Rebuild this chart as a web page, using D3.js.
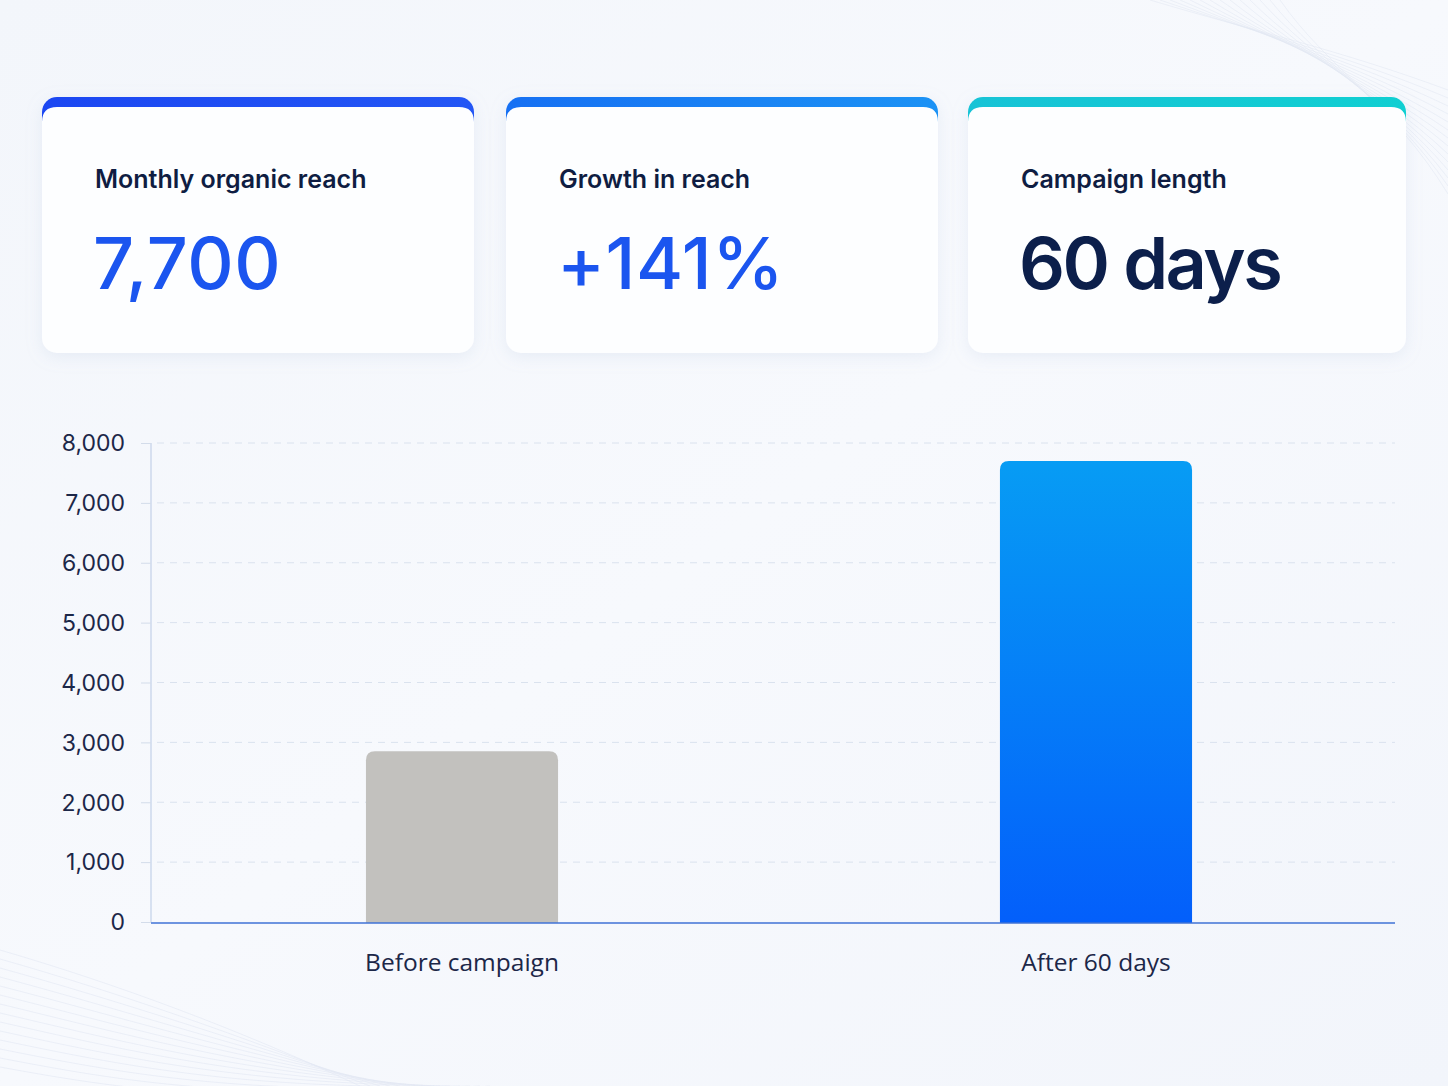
<!DOCTYPE html>
<html>
<head>
<meta charset="utf-8">
<title>Organic reach campaign</title>
<script src="https://cdn.jsdelivr.net/npm/d3@7/dist/d3.min.js"></script>
<style>
  html, body { margin: 0; padding: 0; background: #f4f7fc; }
  svg { display: block; }
  text { font-family: Inter, "Noto Sans", sans-serif; }
  .card-title { font-size: 25px; font-weight: 600; fill: #0f1d42; }
  .card-value { font-size: 72px; font-weight: 500; }
  .tick text { font-size: 23px; fill: #1c2748; }
  .cat-label { font-family: "Open Sans", "Noto Sans", sans-serif; font-size: 24.5px; fill: #1c2748; }
</style>
</head>
<body>
<svg width="1448" height="1086"></svg>
<script>
// ---- data ----
var cardTitles = ["Monthly organic reach", "Growth in reach", "Campaign length"];
var cardValues = ["7,700", "+141%", "60 days"];
var categories = ["Before campaign", "After 60 days"];
var reach = [2850, 7700];
var yTicks = [0, 1000, 2000, 3000, 4000, 5000, 6000, 7000, 8000];

var W = 1448, H = 1086;
var svg = d3.select("svg");
var defs = svg.append("defs");

// background
var bg = defs.append("linearGradient").attr("id", "bg")
  .attr("x1", 0).attr("y1", 0).attr("x2", 1).attr("y2", 1);
bg.append("stop").attr("offset", "0%").attr("stop-color", "#f3f6fb");
bg.append("stop").attr("offset", "50%").attr("stop-color", "#f7f9fd");
bg.append("stop").attr("offset", "100%").attr("stop-color", "#f2f5fb");
svg.append("rect").attr("width", W).attr("height", H).attr("fill", "url(#bg)");

// faint wave lines in corners
var waves = svg.append("g").attr("fill", "none").attr("stroke", "#e2e8f3").attr("stroke-width", 1);
d3.range(14).forEach(function(i) {
  waves.append("path")
    .attr("d", "M" + (1150 + i * 10) + ",0 C" + (1250 + i * 6) + "," + (30 + i * 3) + " " +
      (1340 + i * 4) + "," + (50 + i * 4) + " 1448," + (90 + i * 8))
    .attr("opacity", 0.55);
  waves.append("path")
    .attr("d", "M0," + (950 + i * 9) + " C120," + (985 + i * 8) + " 240," + (1030 + i * 6) + " " +
      (360 + i * 10) + ",1086")
    .attr("opacity", 0.6);
});

// ---- cards ----
var cardX = [42, 506, 968];
var cardW = [432, 432, 438];
var cardY = 97, cardH = 256, radius = 15;
var accentColors = [["#1b47f2", "#2356f5"], ["#1670f3", "#1b92f5"], ["#17c3d6", "#10cfd2"]];
var valueColors = ["#1b55ef", "#1b55ef", "#0c1f4b"];

var shadow = defs.append("filter").attr("id", "shadow")
  .attr("x", "-10%").attr("y", "-10%").attr("width", "120%").attr("height", "130%");
shadow.append("feDropShadow").attr("dx", 0).attr("dy", 4).attr("stdDeviation", 8)
  .attr("flood-color", "#9fb2d6").attr("flood-opacity", 0.18);

cardTitles.forEach(function(t, i) {
  var g = svg.append("g").attr("transform", "translate(" + cardX[i] + "," + cardY + ")");
  var grad = defs.append("linearGradient").attr("id", "accent" + i);
  grad.append("stop").attr("offset", "0%").attr("stop-color", accentColors[i][0]);
  grad.append("stop").attr("offset", "100%").attr("stop-color", accentColors[i][1]);
  var clip = defs.append("clipPath").attr("id", "cardclip" + i);
  clip.append("rect").attr("width", cardW[i]).attr("height", cardH).attr("rx", radius);

  g.append("rect").attr("width", cardW[i]).attr("height", cardH).attr("rx", radius)
    .attr("fill", "#fdfeff").attr("filter", "url(#shadow)");
  var inner = g.append("g").attr("clip-path", "url(#cardclip" + i + ")");
  inner.append("rect").attr("width", cardW[i]).attr("height", 10).attr("fill", "url(#accent" + i + ")");
  inner.append("rect").attr("y", 10).attr("width", cardW[i]).attr("height", 14)
    .attr("fill", "#fdfeff");
  inner.append("path")
    .attr("d", "M0,10 L" + cardW[i] + ",10 L" + cardW[i] + "," + (10 + radius) +
      " Q" + cardW[i] + ",10 " + (cardW[i] - radius) + ",10 L" + radius + ",10 Q0,10 0," + (10 + radius) + " Z")
    .attr("fill", "url(#accent" + i + ")");

  g.append("text").attr("class", "card-title").attr("x", 53).attr("y", 91).text(t);
  g.append("text").attr("class", "card-value").attr("x", 51).attr("y", 192)
    .attr("fill", valueColors[i])
    .style("letter-spacing", i === 2 ? "-2.5px" : "0.5px")
    .style("font-weight", i === 2 ? 600 : 500)
    .text(cardValues[i]);
});

// ---- bar chart ----
var plot = { left: 151, right: 1395, top: 443, bottom: 922 };

var y = d3.scaleLinear().domain([0, 8000]).range([plot.bottom, plot.top]);
var x = d3.scaleBand().domain(categories).range([145, 1413]).padding(0);

var chart = svg.append("g");

// gridlines
chart.append("g").selectAll("line").data(yTicks.filter(function(d) { return d > 0; }))
  .enter().append("line")
  .attr("x1", plot.left + 6).attr("x2", plot.right)
  .attr("y1", function(d) { return y(d); }).attr("y2", function(d) { return y(d); })
  .attr("stroke", "#dae2ee").attr("stroke-width", 1).attr("stroke-dasharray", "7,6");

// y axis
var yAxis = chart.append("g").attr("transform", "translate(" + plot.left + ",0)")
  .call(d3.axisLeft(y).tickValues(yTicks).tickFormat(d3.format(",")).tickSize(10).tickPadding(16));
yAxis.select(".domain").attr("stroke", "#cdd9ec").attr("stroke-width", 1.5)
  .attr("d", "M0," + plot.top + "V" + plot.bottom);
yAxis.selectAll(".tick line").attr("stroke", "#d3dcea");
yAxis.selectAll(".tick text").attr("dy", "0.34em");

// bars
var barGrad = defs.append("linearGradient").attr("id", "barGrad")
  .attr("x1", 0).attr("y1", 0).attr("x2", 0).attr("y2", 1);
barGrad.append("stop").attr("offset", "0%").attr("stop-color", "#079cf4");
barGrad.append("stop").attr("offset", "100%").attr("stop-color", "#035ffb");
var barFills = ["#c2c1be", "url(#barGrad)"];

var bw = x.bandwidth() * 0.303, r = 9;
function barPath(d, i) {
  var x0 = x(categories[i]) + (x.bandwidth() - bw) / 2, x1 = x0 + bw;
  var y0 = y(d), yb = y(0) + 1;
  return "M" + x0 + "," + yb + "V" + (y0 + r) + "Q" + x0 + "," + y0 + " " + (x0 + r) + "," + y0 +
    "H" + (x1 - r) + "Q" + x1 + "," + y0 + " " + x1 + "," + (y0 + r) + "V" + yb + "Z";
}
chart.append("g").selectAll("path").data(reach).enter().append("path")
  .attr("d", barPath)
  .attr("fill", function(d, i) { return barFills[i]; });

// x baseline
chart.append("line").attr("x1", plot.left).attr("x2", plot.right)
  .attr("y1", y(0) + 1).attr("y2", y(0) + 1)
  .attr("stroke", "#3f72d6").attr("stroke-width", 1.6);

// category labels
chart.append("g").selectAll("text").data(categories).enter().append("text")
  .attr("class", "cat-label")
  .attr("x", function(d) { return x(d) + x.bandwidth() / 2; })
  .attr("y", 971)
  .attr("text-anchor", "middle")
  .text(function(d) { return d; });
</script>
</body>
</html>
